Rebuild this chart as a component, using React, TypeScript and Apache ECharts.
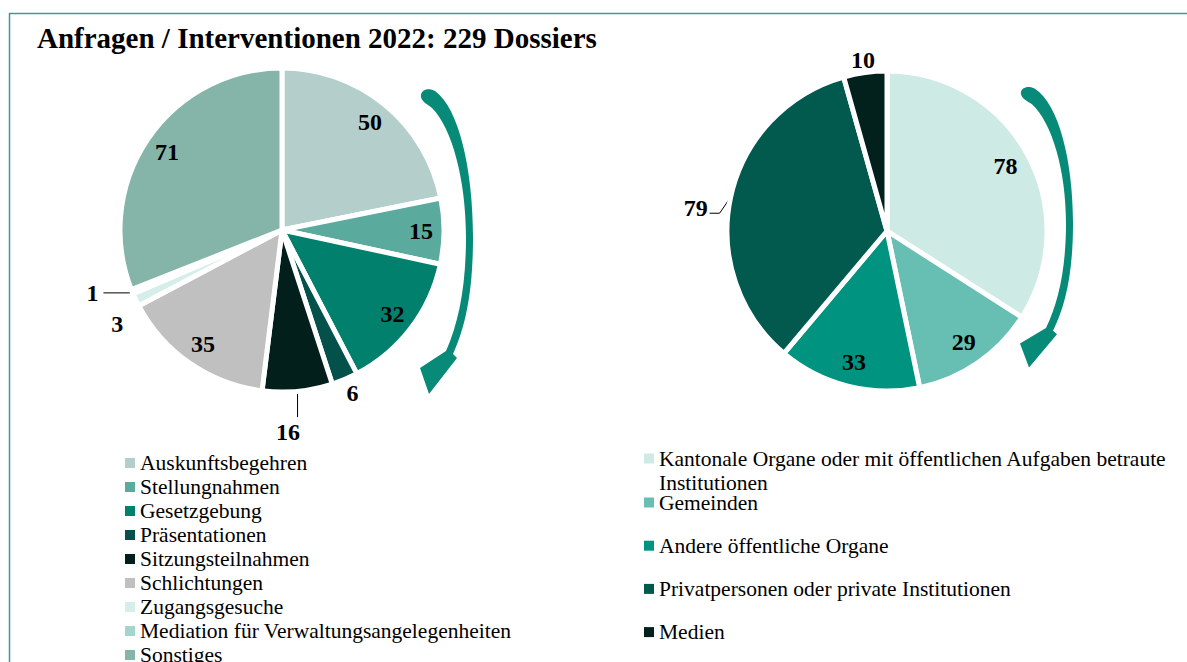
import React, { useEffect, useRef } from "react";
import * as echarts from "echarts";

const SERIF = '"Liberation Serif", "Times New Roman", serif';
const TITLE = "Anfragen / Interventionen 2022: 229 Dossiers";

const leftNames = [
  "Auskunftsbegehren",
  "Stellungnahmen",
  "Gesetzgebung",
  "Präsentationen",
  "Sitzungsteilnahmen",
  "Schlichtungen",
  "Zugangsgesuche",
  "Mediation für Verwaltungsangelegenheiten",
  "Sonstiges",
];
const leftValues = [50, 15, 32, 6, 16, 35, 3, 1, 71];
const leftColors = ["#b4cfcb", "#5aab9e", "#00806d", "#03514a", "#021f1b", "#c0c0c0", "#d5eee9", "#a3d5cd", "#84b5a8"];
const leftLabelInside = [true, true, true, false, false, true, false, false, true];

const rightNames = [
  "Kantonale Organe oder mit öffentlichen Aufgaben betraute Institutionen",
  "Gemeinden",
  "Andere öffentliche Organe",
  "Privatpersonen oder private Institutionen",
  "Medien",
];
const rightValues = [78, 29, 33, 79, 10];
const rightColors = ["#cdeae5", "#66bfb2", "#009480", "#02594d", "#02201c"];
const rightLabelInside = [true, true, true, false, false];

// label line styling for outside labels (by data index)
const leftLines: Record<number, any> = {
  3: { show: false, length: 12, length2: 0 },
  4: { show: true, length: 26, length2: 0 },
  6: { show: false, length: 4, length2: 0 },
  7: { show: true, length: 3, length2: 26 },
};
const leftNudge: Record<number, [number, number]> = { 3: [-8, 3], 4: [-29, 15], 6: [-4, 22] };
const rightLines: Record<number, any> = {
  3: { show: true, length: 6, length2: 14 },
  4: { show: false, length: 8, length2: 0 },
};
const rightNudge: Record<number, [number, number]> = { 3: [2, 12], 4: [16, -4.5] };

const ARROW_PATH =
  "M 421 97 C 420 90 428 87 435 91 C 459 108 473 170 473 237 C 473 290 466 326 453 354 L 457 358 L 429 394 L 420 368 L 446 351 C 459 322 466 285 466 237 C 466 180 452 128 432 108 C 427 104 422 102 421 97 Z";

let registered = false;

export default function App() {
  const ref = useRef<HTMLDivElement>(null);
  useEffect(() => {
    if (!registered) {
      echarts.graphic.registerShape("curvedArrow", echarts.graphic.extendPath(ARROW_PATH, {}) as any);
      registered = true;
    }
    const chart = echarts.init(ref.current!, null, { renderer: "svg" });
    const labelFont = { fontFamily: SERIF, fontWeight: "bold", fontSize: 24, color: "#000" };
    const legendText = { fontFamily: SERIF, fontSize: 21.5, lineHeight: 24, color: "#000" };

    const mainPie = (
      names: string[], values: number[], colors: string[], inside: boolean[],
      lines: Record<number, any>, nudge: Record<number, [number, number]>,
      center: number[], radius: number, custom: (i: number, pts: any) => any
    ) => ({
      type: "pie",
      center,
      radius,
      startAngle: 90,
      clockwise: true,
      avoidLabelOverlap: false,
      silent: true,
      emphasis: { disabled: true },
      itemStyle: { borderColor: "#fff", borderWidth: 5 },
      label: { show: true, position: "outside", formatter: "{c}", distanceToLabelLine: 5, ...labelFont },
      labelLine: { show: true, lineStyle: { color: "#000", width: 1 } },
      data: names.map((n, i) => ({
        name: n,
        value: values[i],
        itemStyle: { color: colors[i] },
        label: { show: !inside[i] },
        labelLine: lines[i] || { show: false },
      })),
      labelLayout: (p: any) => {
        const i = p.dataIndex;
        const out: any = {};
        if (nudge[i]) { out.dx = nudge[i][0]; out.dy = nudge[i][1]; }
        const extra = custom(i, p.labelLinePoints);
        return { ...out, ...extra };
      },
    });

    const helperPie = (values: number[], inside: boolean[], center: number[], radius: number[]) => ({
      type: "pie",
      center,
      radius,
      startAngle: 90,
      clockwise: true,
      avoidLabelOverlap: false,
      silent: true,
      emphasis: { disabled: true },
      itemStyle: { color: "rgba(0,0,0,0)", borderWidth: 0 },
      label: { show: true, position: "inside", formatter: "{c}", ...labelFont },
      labelLine: { show: false },
      data: values.map((v, i) => ({ value: v, label: { show: inside[i] } })),
    });

    const option: any = {
      animation: false,
      backgroundColor: "#fff",
      title: {
        text: TITLE,
        left: 37,
        top: 21,
        padding: 0,
        textStyle: { fontFamily: SERIF, fontWeight: "bold", fontSize: 29, lineHeight: 34, color: "#000" },
      },
      legend: [
        {
          type: "plain", orient: "vertical", left: 125, top: 451, height: 400, padding: 0, itemGap: 0,
          itemWidth: 10, itemHeight: 10, icon: "rect", selectedMode: false,
          itemStyle: { borderWidth: 0 }, data: leftNames, textStyle: legendText,
        },
        {
          orient: "vertical", left: 644, top: 422.5, padding: 0, itemGap: 0,
          itemWidth: 10, itemHeight: 10, icon: "rect", selectedMode: false,
          itemStyle: { borderWidth: 0 }, data: [rightNames[0]],
          formatter: () => "\nKantonale Organe oder mit öffentlichen Aufgaben betraute\nInstitutionen",
          textStyle: legendText,
        },
        {
          orient: "vertical", left: 644, top: 490.5, padding: 0, itemGap: 19.2,
          itemWidth: 10, itemHeight: 10, icon: "rect", selectedMode: false,
          itemStyle: { borderWidth: 0 }, data: rightNames.slice(1), textStyle: legendText,
        },
      ],
      series: [
        mainPie(leftNames, leftValues, leftColors, leftLabelInside, leftLines, leftNudge, [282, 230], 162,
          (i, pts) => {
            if (i === 4 && pts) {
              const p0 = pts[0], p2 = pts[pts.length - 1];
              return { labelLinePoints: [p0, [p0[0], p2[1]], [p0[0], p2[1]]] };
            }
            return {};
          }),
        mainPie(rightNames, rightValues, rightColors, rightLabelInside, rightLines, rightNudge, [887, 231], 160,
          (i, pts) => {
            if (i === 3 && pts) {
              const p0 = pts[0];
              return { labelLinePoints: [p0, [p0[0] - 11, p0[1] + 16], [p0[0] - 21, p0[1] + 16]] };
            }
            return {};
          }),
        helperPie(leftValues, leftLabelInside, [282, 230], [110, 162]),
        helperPie(rightValues, rightLabelInside, [887, 231], [104, 160]),
      ],
      graphic: [
        {
          type: "rect", silent: true, z: -1,
          shape: { x: 9.5, y: 13.5, width: 1200, height: 700 },
          style: { fill: "none", stroke: "#3c9c92", lineWidth: 1.5 },
        },
        { type: "curvedArrow", x: 0, y: 0, silent: true, style: { fill: "#078a77" } },
        { type: "curvedArrow", x: 600, y: 5, scaleY: 0.92, silent: true, style: { fill: "#078a77" } },
      ],
    };
    chart.setOption(option);
    return () => chart.dispose();
  }, []);
  return (
    <div
      ref={ref}
      style={{ position: "absolute", left: 0, top: 0, width: 1187, height: 662, background: "#fff" }}
    />
  );
}
